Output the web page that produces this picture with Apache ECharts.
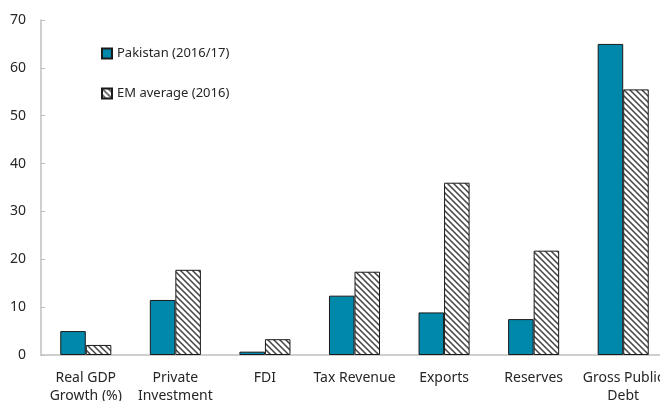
<!DOCTYPE html>
<html>
<head>
<meta charset="utf-8">
<script src="https://cdn.jsdelivr.net/npm/echarts@6/dist/echarts.min.js"></script>
<style>
  html, body { margin: 0; padding: 0; background: #fff; overflow: hidden; }
  #chart { width: 660px; height: 401px; }
</style>
</head>
<body>
<div id="chart"></div>
<script>
const categories = ['Real GDP\nGrowth (%)', 'Private\nInvestment', 'FDI', 'Tax Revenue', 'Exports', 'Reserves', 'Gross Public\nDebt'];
const pakistan = [5.0, 11.5, 0.7, 12.4, 8.9, 7.5, 65.0];
const emAverage = [2.1, 17.8, 3.3, 17.4, 36.0, 21.8, 55.5];
const yTicks = [0, 10, 20, 30, 40, 50, 60, 70];

// diagonal hatch for the EM bars
function makeHatch() {
  const size = 6;
  const c = document.createElement('canvas');
  c.width = size; c.height = size;
  const ctx = c.getContext('2d');
  const img = ctx.createImageData(size, size);
  for (let y = 0; y < size; y++) {
    for (let x = 0; x < size; x++) {
      const k = ((x - y) % size + size) % size;
      const i = (y * size + x) * 4;
      let v = 255;
      if (k === 0) v = 70;
      else if (k === 1 || k === size - 1) v = 150;
      img.data[i] = v; img.data[i + 1] = v; img.data[i + 2] = v; img.data[i + 3] = 255;
    }
  }
  ctx.putImageData(img, 0, 0);
  return c;
}

const chart = echarts.init(document.getElementById('chart'));
const font = 'Noto Sans';

chart.setOption({
  animation: false,
  textStyle: { fontFamily: font },
  // plot runs past the right edge, like the original crop
  grid: { left: 41, width: 627, top: 20, bottom: 46, outerBoundsMode: 'none', containLabel: false },
  legend: {
    orient: 'vertical',
    left: 96,
    top: 42,
    icon: 'rect',
    itemWidth: 10,
    itemHeight: 10,
    itemGap: 27,
    textStyle: { fontFamily: font, fontSize: 13, color: '#262626' },
    data: ['Pakistan (2016/17)', 'EM average (2016)']
  },
  xAxis: {
    type: 'category',
    data: categories,
    axisLine: { lineStyle: { color: '#bfbfbf', width: 1.5 } },
    axisTick: { inside: true, length: 4, lineStyle: { color: '#bfbfbf' } },
    axisLabel: { fontFamily: font, fontSize: 14, color: '#262626', lineHeight: 18, margin: 14, interval: 0 }
  },
  yAxis: {
    type: 'value',
    min: yTicks[0],
    max: yTicks[yTicks.length - 1],
    interval: 10,
    splitLine: { show: false },
    axisLine: { show: true, lineStyle: { color: '#bfbfbf', width: 1.5 } },
    axisTick: { show: true, inside: true, length: 4, lineStyle: { color: '#bfbfbf' } },
    axisLabel: { fontFamily: font, fontSize: 14, color: '#262626', margin: 15 }
  },
  series: [
    {
      name: 'Pakistan (2016/17)',
      type: 'bar',
      data: pakistan,
      barWidth: '28.5%',
      barGap: '0%',
      itemStyle: { color: '#0088ab', borderColor: '#1a1a1a', borderWidth: 1 }
    },
    {
      name: 'EM average (2016)',
      type: 'bar',
      data: emAverage,
      barWidth: '28.5%',
      itemStyle: { color: { image: makeHatch(), repeat: 'repeat' }, borderColor: '#1a1a1a', borderWidth: 1 }
    }
  ]
});
</script>
</body>
</html>
